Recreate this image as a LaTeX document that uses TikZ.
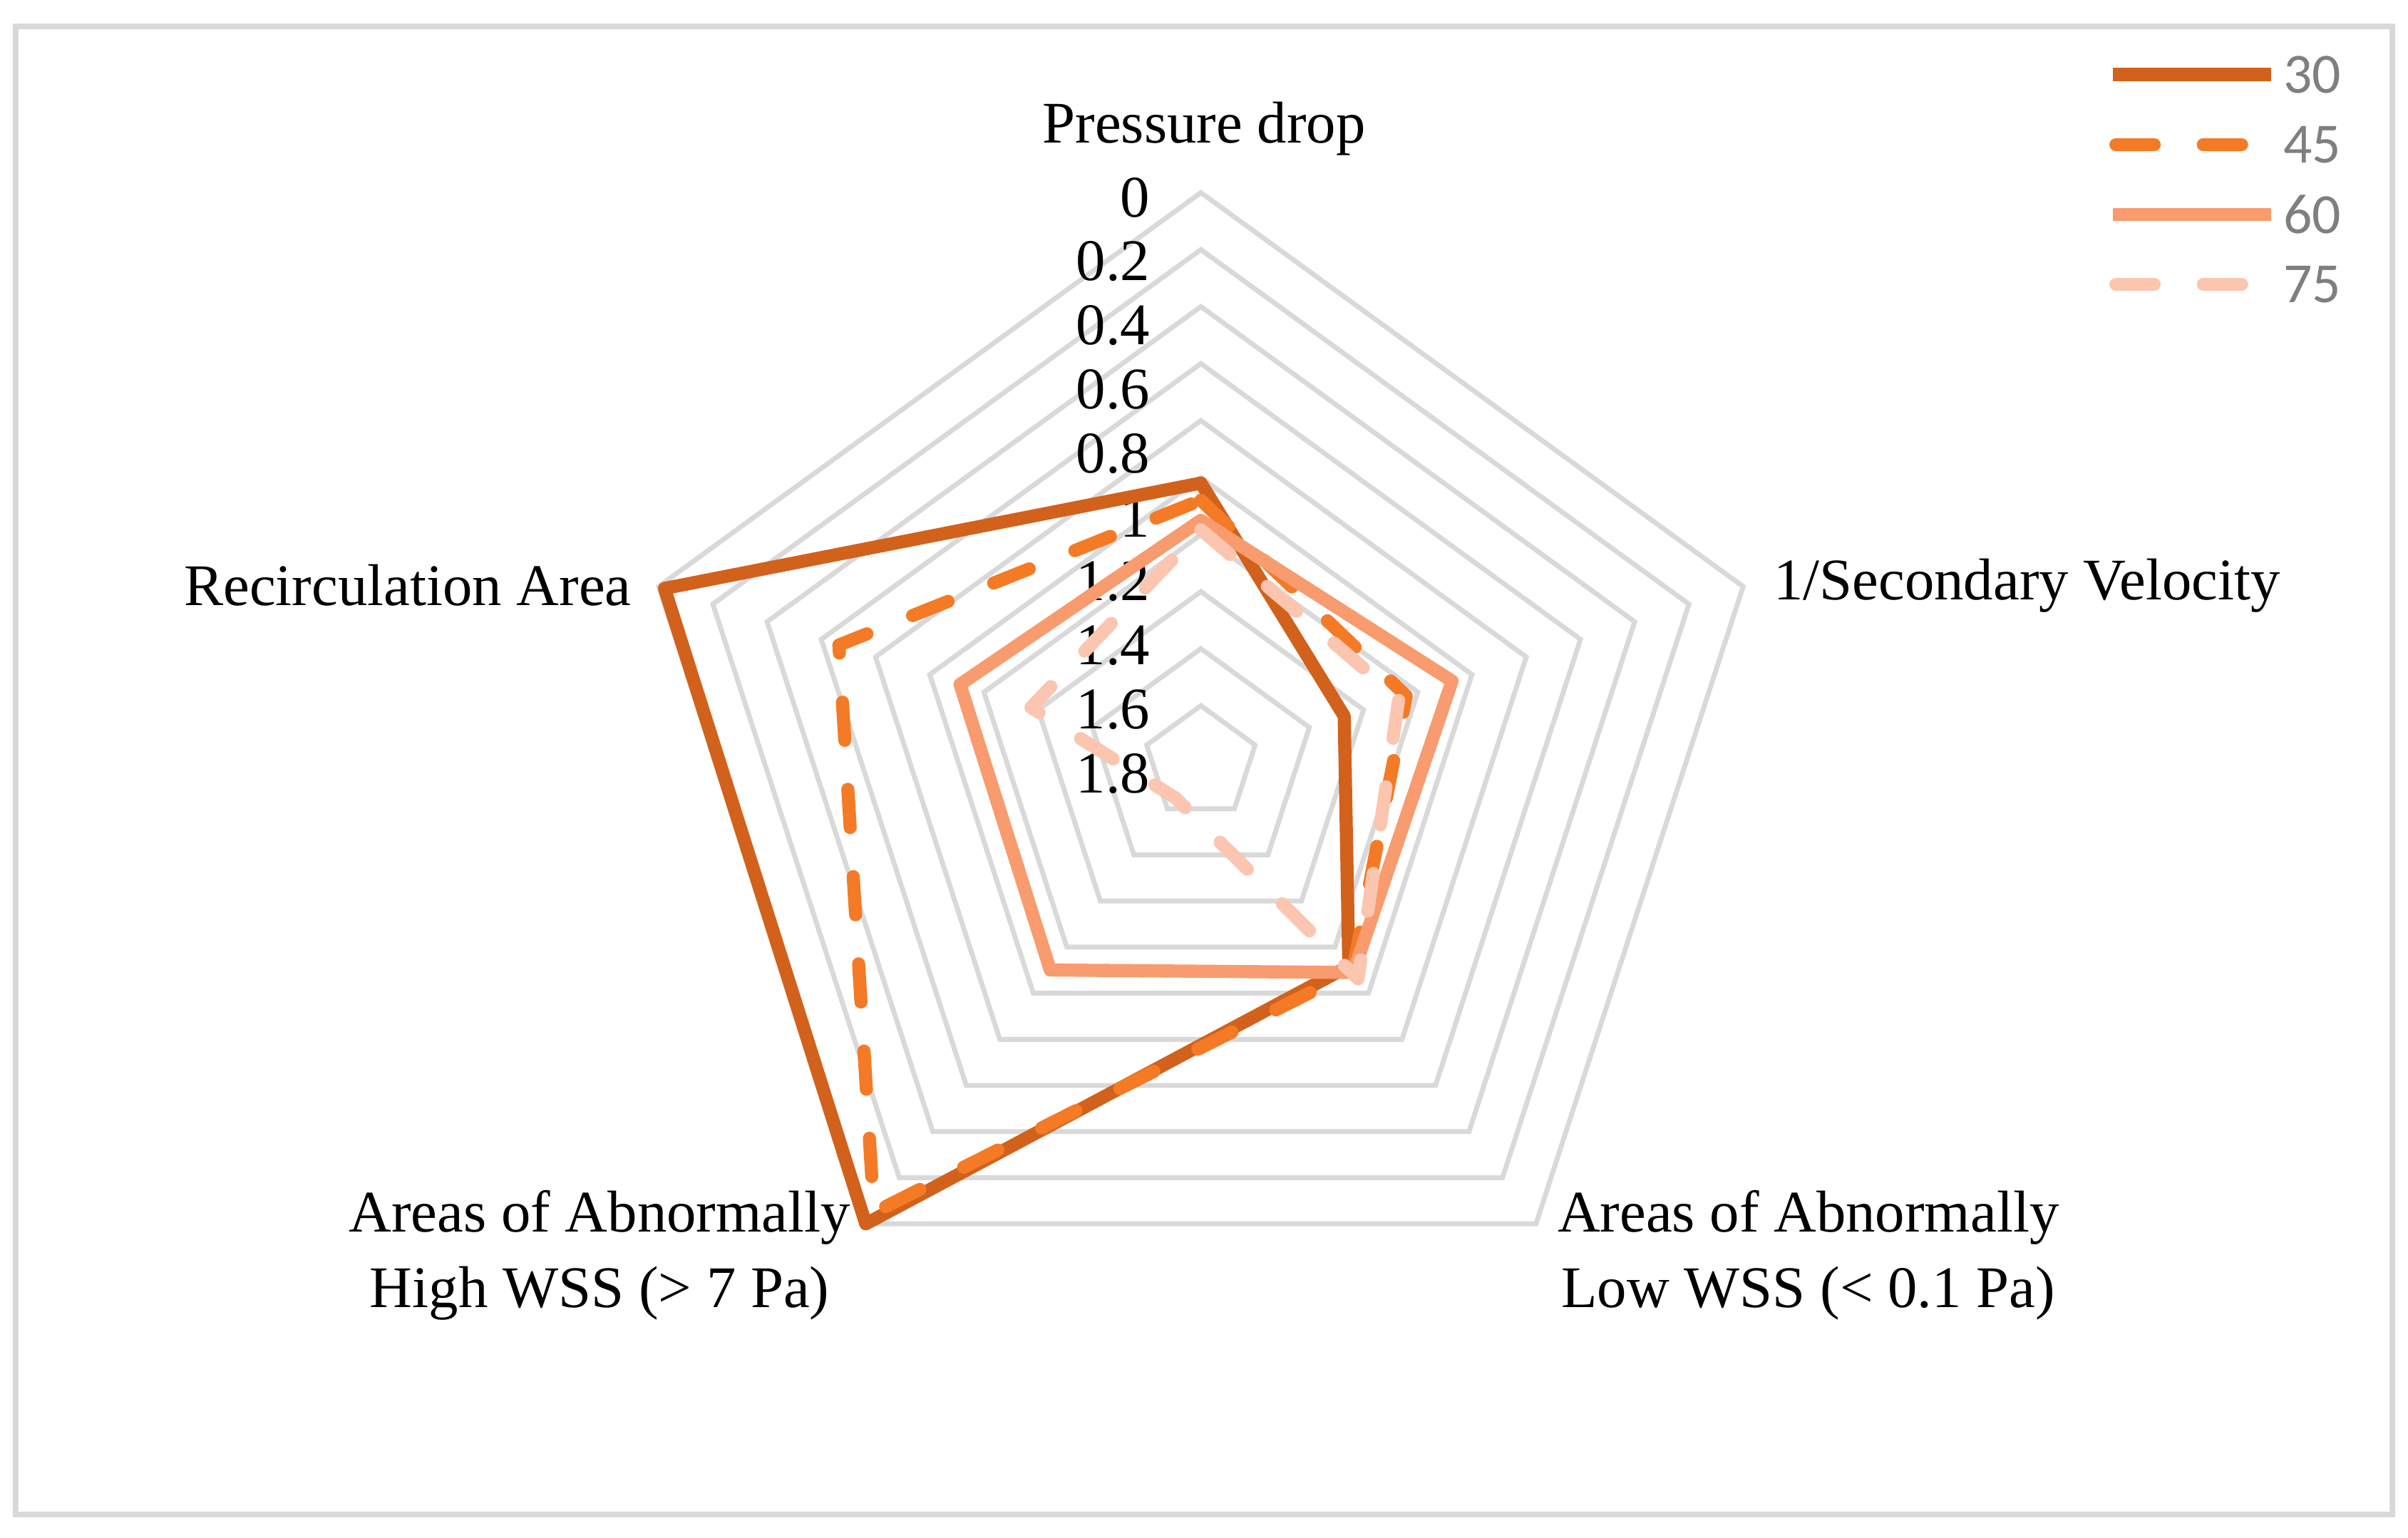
\documentclass[tikz,border=0pt]{standalone}
\usepackage{fontspec}
\setmainfont{Liberation Serif}
\newfontfamily\legfont{Carlito}
\begin{document}
\begin{tikzpicture}[x=0.01cm,y=0.01cm,
  grid/.style={draw=gridc,line width=0.9pt},
  ser/.style={line width=2.4pt,line join=round},
  dsh/.style={dash pattern=on 7pt off 9pt,line cap=round},
  cat/.style={font=\fontsize{10.8pt}{13.8pt}\selectfont,align=center,inner sep=0pt},
  tick/.style={font=\fontsize{10.8pt}{11pt}\selectfont,anchor=east,inner sep=0pt},
  leg/.style={font=\legfont\fontsize{10.4pt}{11pt}\selectfont,text=legc,anchor=west,inner sep=0pt}]
\definecolor{gridc}{HTML}{D9D9D9}
\definecolor{legc}{HTML}{7F7F7F}
\definecolor{cA}{HTML}{D2611C}
\definecolor{cB}{HTML}{F47A26}
\definecolor{cC}{HTML}{F89B6E}
\definecolor{cD}{HTML}{FBC5B0}
\useasboundingbox (0,0) rectangle (1550,-990);
\draw[gridc,line width=1pt] (10,-17) rectangle (1540,-975);
\begin{scope}[shift={(773,-491)}]
\foreach \k in {1,...,10}{
  \draw[grid] (90:36.7*\k) -- (18:36.7*\k) -- (-54:36.7*\k) -- (-126:36.7*\k) -- (162:36.7*\k) -- cycle;}
\end{scope}
\foreach \v/\k in {0/10,0.2/9,0.4/8,0.6/7,0.8/6,1/5,1.2/4,1.4/3,1.6/2,1.8/1}{
  \node[tick] (t\k) at (741,{-498+41.2*(\k-1)}) {\v};}
\begin{scope}[shift={(773,-491)}]
\draw[ser,cA] (90:180) -- (18:97) -- (-54:162) -- (-126:367) -- (162:363) -- cycle;
\draw[ser,cB,dsh] (90:169) -- (18:139) -- (-54:166) -- (-126:358) -- (162:245) -- cycle;
\draw[ser,cC] (90:156) -- (18:170) -- (-54:167) -- (-126:165) -- (162:163) -- cycle;
\draw[ser,cD,dsh] (90:150) -- (18:134) -- (-54:172) -- (-126:28) -- (162:115) -- cycle;
\end{scope}
\node[cat] (pd) at (775,-83) {Pressure drop};
\node[cat,anchor=west] (sv) at (1141,-377) {1/Secondary Velocity};
\node[cat,anchor=east] (ra) at (407,-377) {Recirculation Area};
\node[cat] (hw) at (386,-808) {Areas of Abnormally\\High WSS (\textgreater{} 7 Pa)};
\node[cat] (lw) at (1164,-808) {Areas of Abnormally\\Low WSS (\textless{} 0.1 Pa)};
\coordinate (l1a) at (1360,-48); \coordinate (l1b) at (1462,-48);
\coordinate (l2a) at (1362,-93); \coordinate (l2b) at (1462,-93);
\coordinate (l3a) at (1360,-138); \coordinate (l3b) at (1462,-138);
\coordinate (l4a) at (1362,-183); \coordinate (l4b) at (1462,-183);
\draw[ser,cA] (l1a) -- (l1b);
\draw[ser,cB,dsh] (l2a) -- (l2b);
\draw[ser,cC] (l3a) -- (l3b);
\draw[ser,cD,dsh] (l4a) -- (l4b);
\node[leg] (g1) at (1469,-48) {30};
\node[leg] (g2) at (1469,-93) {45};
\node[leg] (g3) at (1469,-138) {60};
\node[leg] (g4) at (1469,-183) {75};
\end{tikzpicture}
\end{document}
